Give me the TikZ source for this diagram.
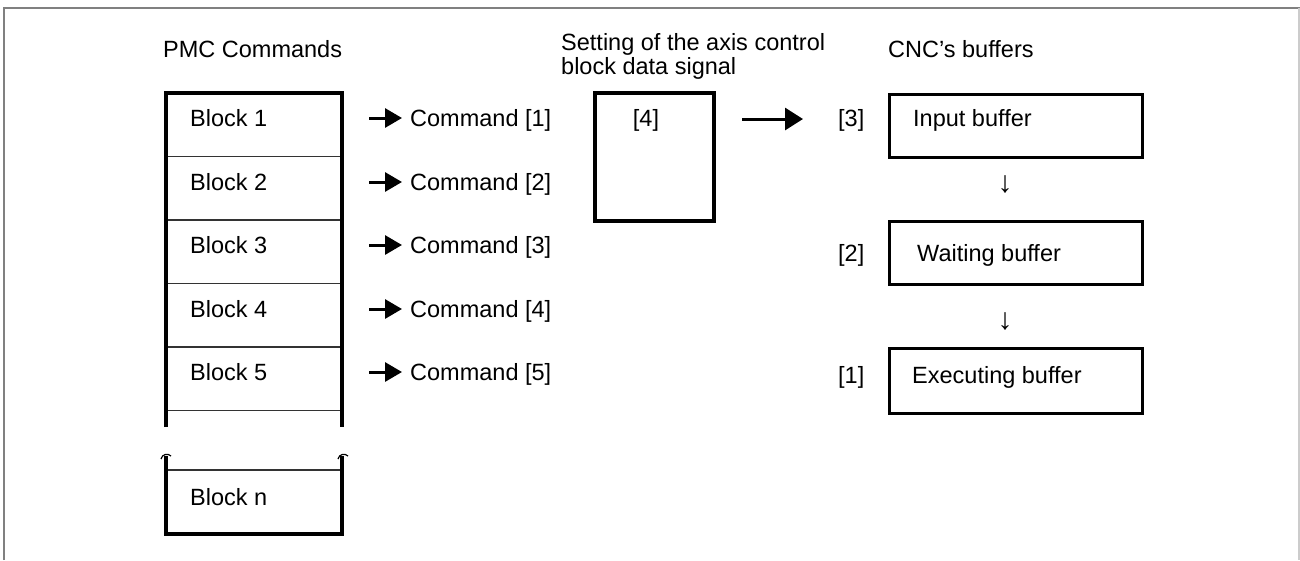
\documentclass[tikz,border=0pt]{standalone}
\usepackage{fontspec}
\setmainfont{Liberation Sans}
\usetikzlibrary{arrows.meta}
\begin{document}
\begin{tikzpicture}[x=1pt,y=-1pt,
  txt/.style={anchor=base west,inner sep=0pt,font=\fontsize{23.5}{27}\selectfont},
  thick box/.style={line width=3.2pt},
  thin line/.style={line width=1.5pt,draw=black!80},
  cmdarrow/.style={line width=3pt,-{Triangle[length=17pt,width=19pt]}},
  bigarrow/.style={line width=3pt,-{Triangle[length=18pt,width=22pt]}},
  frameline/.style={line width=2pt,draw=black!50}]
\useasboundingbox (0,0) rectangle (1300,560);
% frame
\draw[frameline] (4,560) -- (4,8) -- (1300,8);
\draw[line width=1.5pt,draw=black!20] (1299,8) -- (1299,560);
% titles
\node[txt] (t1) at (163,57) {PMC Commands};
\node[txt] (t2) at (561,50) {Setting of the axis control};
\node[txt] (t3) at (561,74) {block data signal};
\node[txt] (t4) at (888,57) {CNC’s buffers};
% PMC stack
\draw[thin line] (166,156.5) -- (342,156.5);
\draw[thin line] (166,220) -- (342,220);
\draw[thin line] (166,283.5) -- (342,283.5);
\draw[thin line] (166,347) -- (342,347);
\draw[thin line] (166,410.5) -- (342,410.5);
\draw[thick box] (166,427) -- (166,93) -- (342,93) -- (342,427);
\node[txt] (b1) at (190,126.5) {Block 1};
\node[txt] (b2) at (190,190) {Block 2};
\node[txt] (b3) at (190,253.5) {Block 3};
\node[txt] (b4) at (190,317) {Block 4};
\node[txt] (b5) at (190,380.5) {Block 5};
% lower part
\draw[thin line] (166,470) -- (342,470);
\draw[thick box] (166,456) -- (166,534) -- (342,534) -- (342,456);
\draw[line width=1.2pt] (161,459) .. controls (162,454) and (168,453) .. (171,456);
\draw[line width=1.2pt] (338,459) .. controls (339,454) and (345,453) .. (348,456);
\node[txt] (bn) at (190,505) {Block n};
% commands
\node[txt] (c1) at (410,126.5) {Command [1]};
\node[txt] (c2) at (410,190) {Command [2]};
\node[txt] (c3) at (410,253.5) {Command [3]};
\node[txt] (c4) at (410,317) {Command [4]};
\node[txt] (c5) at (410,380.5) {Command [5]};
\foreach \i/\y in {1/118,2/182,3/245,4/309,5/372}{
  \coordinate (a\i) at (369,\y);
  \coordinate (e\i) at (402,\y);
  \draw[cmdarrow] (a\i) -- (e\i);
}
% setting box
\draw[thick box] (595,93) rectangle (714,221);
\node[txt,anchor=base] (s4) at (646,126.5) {[4]};
\coordinate (m1) at (742,119);
\coordinate (m2) at (803,119);
\draw[bigarrow] (m1) -- (m2);
% CNC buffers
\node[draw,line width=3.2pt,minimum width=253pt,minimum height=63pt,anchor=north west,inner sep=0pt] (ib) at (888,93) {};
\node[draw,line width=3.2pt,minimum width=253pt,minimum height=63pt,anchor=north west,inner sep=0pt] (wb) at (888,220) {};
\node[draw,line width=3.2pt,minimum width=253pt,minimum height=65pt,anchor=north west,inner sep=0pt] (eb) at (888,347) {};
\node[txt] (ibt) at (913,126.5) {Input buffer};
\node[txt] (wbt) at (917,261.5) {Waiting buffer};
\node[txt] (ebt) at (912,383.5) {Executing buffer};
\node[txt] (l3) at (838,126.5) {[3]};
\node[txt] (l2) at (838,261.5) {[2]};
\node[txt] (l1) at (838,383.5) {[1]};
\node[anchor=center,inner sep=0pt,font=\fontsize{30}{34}\selectfont] (d1) at (1005,185) {↓};
\node[anchor=center,inner sep=0pt,font=\fontsize{30}{34}\selectfont] (d2) at (1005,322) {↓};
\end{tikzpicture}
\end{document}
